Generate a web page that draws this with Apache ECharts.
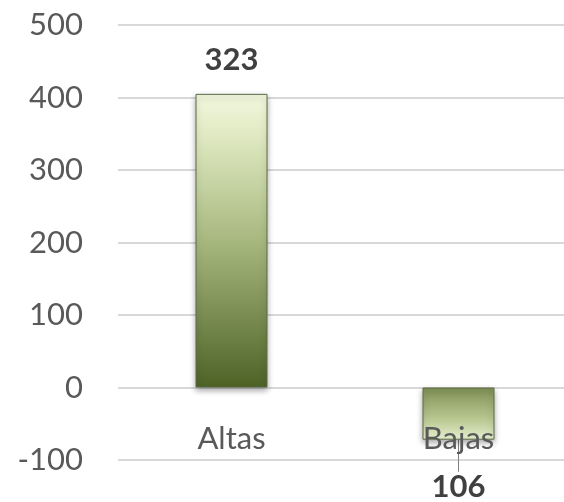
<!DOCTYPE html>
<html>
<head>
    <meta charset="utf-8"/>
    <title>Altas / Bajas</title>
    <script src="https://cdn.jsdelivr.net/npm/echarts@6/dist/echarts.min.js"></script>
    <style>
        html, body { margin: 0; padding: 0; background: #fff; }
        #chart { width: 564px; height: 502px; }
    </style>
</head>
<body>
<div id="chart"></div>
<script>
    // datos
    var categorias = ['Altas', 'Bajas'];
    var valores = [405, -72];
    var etiquetas = ['323', '106'];
    var ticksY = [-100, 0, 100, 200, 300, 400, 500];

    var gradAltas = new echarts.graphic.LinearGradient(0, 0, 0, 1, [
        {offset: 0, color: '#f3f8e0'},
        {offset: 0.15, color: '#dfe8c0'},
        {offset: 0.5, color: '#a7b87f'},
        {offset: 1, color: '#4e6226'}
    ]);
    var gradBajas = new echarts.graphic.LinearGradient(0, 0, 0, 1, [
        {offset: 0, color: '#7f9055'},
        {offset: 0.6, color: '#b8c790'},
        {offset: 1, color: '#e6eecf'}
    ]);

    var datos = [];
    for (var i = 0; i < valores.length; i++) {
        var neg = valores[i] < 0;
        datos.push({
            value: valores[i],
            itemStyle: {color: neg ? gradBajas : gradAltas},
            label: {
                position: neg ? 'bottom' : 'top',
                distance: neg ? 5 : 18,
                formatter: etiquetas[i]
            },
            labelLine: {show: neg, lineStyle: {color: '#7f7f7f', width: 1}}
        });
    }

    var myChart = echarts.init(document.getElementById('chart'));
    var option = {
        animation: false,
        textStyle: {fontFamily: 'Lato'},
        grid: {left: 118, right: -8, top: 25, bottom: 42, outerBoundsMode: 'none', containLabel: false},
        xAxis: {
            type: 'category',
            data: categorias,
            offset: -72.5, // etiquetas junto a la línea del 0
            axisLine: {show: false, onZero: false},
            axisTick: {show: false},
            axisLabel: {color: '#595959', fontSize: 31, margin: 36, fontFamily: 'Lato'},
            z: 10
        },
        yAxis: {
            type: 'value',
            min: ticksY[0],
            max: ticksY[ticksY.length - 1],
            interval: 100,
            axisLine: {show: false},
            axisTick: {show: false},
            axisLabel: {color: '#595959', fontSize: 31, margin: 35, fontFamily: 'Lato'},
            splitLine: {lineStyle: {color: '#d9d9d9', width: 2}}
        },
        series: [{
            type: 'bar',
            data: datos,
            barWidth: 72,
            itemStyle: {
                borderColor: '#5d6b45',
                borderWidth: 1,
                shadowColor: 'rgba(0,0,0,0.35)',
                shadowBlur: 6,
                shadowOffsetY: 3
            },
            label: {
                show: true,
                color: '#404040',
                fontSize: 31,
                fontWeight: 'bold',
                fontFamily: 'Lato'
            },
            labelLayout: function (params) {
                if (valores[params.dataIndex] < 0) {
                    return {dy: 27};
                }
                return {};
            }
        }]
    };
    myChart.setOption(option);
</script>
</body>
</html>
